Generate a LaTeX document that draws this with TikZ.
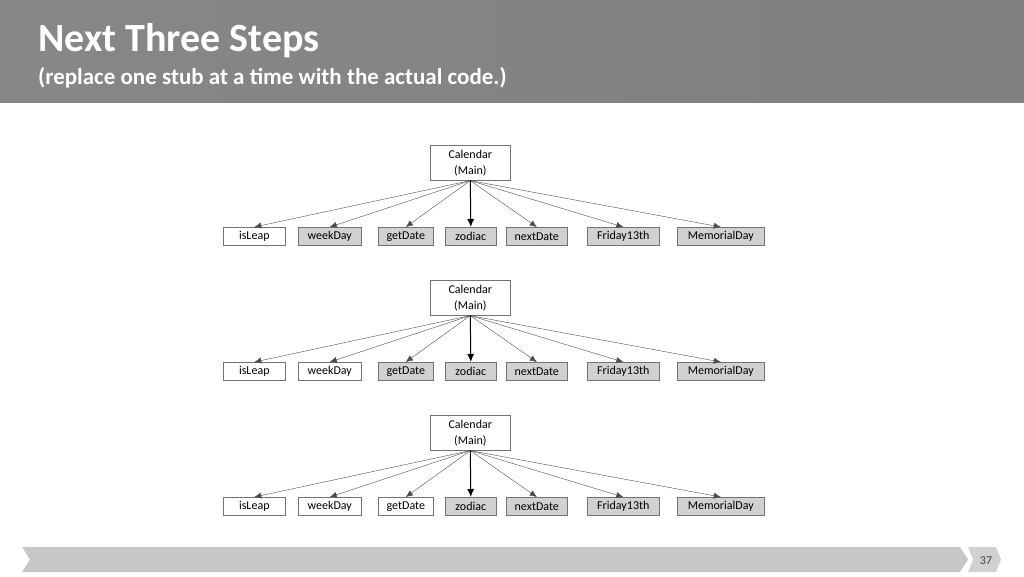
\documentclass[tikz,border=0pt]{standalone}
\usepackage{fontspec}
\setmainfont{Carlito}
\usetikzlibrary{arrows.meta}
\begin{document}
\begin{tikzpicture}[x=1pt,y=-1pt,
  box/.style={draw=black!55,line width=0.6pt,minimum height=18pt,inner sep=0pt,font=\fontsize{12}{13}\selectfont,anchor=north west},
  on/.style={fill=black!18},
  cal/.style={draw=black!55,line width=0.6pt,minimum width=80pt,minimum height=35pt,inner sep=0pt,font=\fontsize{12}{16}\selectfont,align=center,anchor=north west},
  conn/.style={-{Latex[length=7pt,width=6pt]},draw=black!70,line width=0.4pt},
  main/.style={-{Latex[length=8pt,width=7pt]},black,line width=1pt}]
\useasboundingbox (0,0) rectangle (1024,576);
\fill[left color=black!47,right color=black!50] (0,0) rectangle (1024,102);
\node[anchor=base west,text=white,font=\fontsize{40}{44}\selectfont\bfseries,inner sep=0] (title) at (38,51) {Next Three Steps};
\node[anchor=base west,text=white,font=\fontsize{23}{26}\selectfont\bfseries,inner sep=0] (sub) at (38,84) {(replace one stub at a time with the actual code.)};
\foreach \r/\dy/\a/\b/\c in {1/0/on/on/on, 2/135/{}/{}/on, 3/270/{}/{}/{}}{
  \node[cal] (c\r) at (430,145+\dy) {Calendar\\(Main)};
  \node[box,minimum width=62pt] (a\r) at (223,227+\dy) {isLeap};
  \node[box,minimum width=63pt,\b] (b\r) at (298,227+\dy) {weekDay};
  \node[box,minimum width=55pt,\c] (g\r) at (378,227+\dy) {getDate};
  \node[box,minimum width=51pt,on] (z\r) at (445,227+\dy) {zodiac};
  \node[box,minimum width=61pt,on] (n\r) at (506,227+\dy) {nextDate};
  \node[box,minimum width=72pt,on] (f\r) at (587,227+\dy) {Friday13th};
  \node[box,minimum width=87pt,on] (m\r) at (677,227+\dy) {MemorialDay};
  \foreach \t in {a,b,g,n,f,m}{\draw[conn] (c\r.south) -- (\t\r.north);}
  \draw[main] (c\r.south) -- (z\r.north);
}
\fill[black!22] (22,547) -- (960,547) -- (968,559.5) -- (960,572) -- (22,572) -- (30,559.5) -- cycle;
\fill[black!18] (968,547) -- (996,547) -- (1001,559.5) -- (996,572) -- (968,572) -- (973,559.5) -- cycle;
\node[font=\fontsize{12}{13}\selectfont,text=black!75] (pg) at (986,561) {37};
\end{tikzpicture}
\end{document}
